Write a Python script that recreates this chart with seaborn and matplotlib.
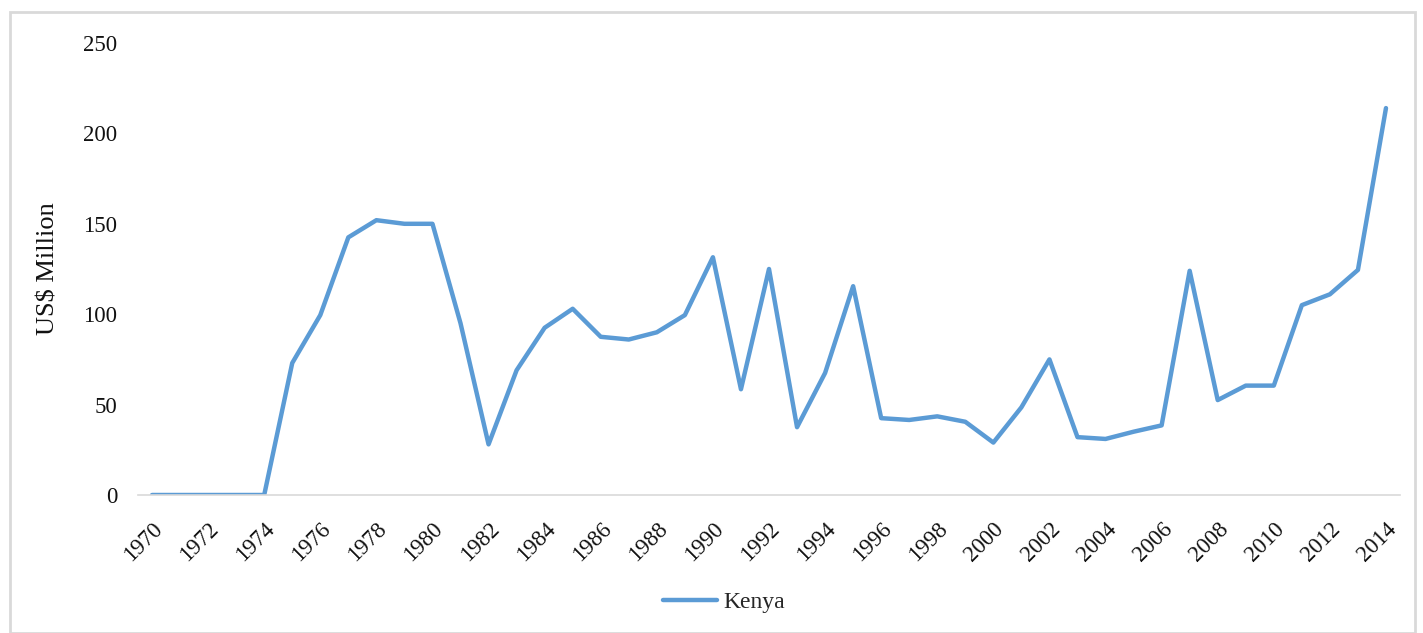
import matplotlib
matplotlib.use("Agg")
import matplotlib.pyplot as plt
import seaborn as sns
import pandas as pd
from matplotlib.patches import Rectangle

years = list(range(1970, 2015))
kenya = [0, 0, 0, 0, 0, 73, 99.5, 142.5, 152, 150, 150, 95, 28,
         69, 92.5, 103, 87.5, 86, 90, 99.5, 131.5, 58.5, 125, 37.5, 67.5,
         115.5, 42.5, 41.5, 43.5, 40.5, 29, 48.5, 75, 32, 31, 35, 38.5,
         124, 52.5, 60.5, 60.5, 105, 111, 124.5, 214]
series_name = "Kenya"
y_ticks = [0, 50, 100, 150, 200, 250]
x_tick_years = list(range(1970, 2015, 2))

df = pd.DataFrame({"Year": years, "Value": kenya, "Series": series_name})

sns.set_theme(style="white")
plt.rcParams["font.family"] = ["Liberation Serif", "DejaVu Serif"]

W, H = 1423, 633
fig = plt.figure(figsize=(W / 100, H / 100), dpi=100)
ax = fig.add_axes([138 / W, 1 - 495 / H, (1400 - 138) / W, (495 - 43) / H])

sns.lineplot(data=df, x="Year", y="Value", hue="Series",
             palette=["#5B9BD5"], linewidth=3.2, ax=ax, legend=True)

ax.set_xlim(1969.5, 2014.5)
ax.set_ylim(0, 250)
ax.set_yticks(y_ticks)
ax.set_yticklabels([str(v) for v in y_ticks], fontsize=16.5, color="#111111")
ax.set_xticks(x_tick_years)
ax.set_xticklabels([str(y) for y in x_tick_years], fontsize=16.5, rotation=45,
                   ha="right", rotation_mode="anchor", color="#111111")
ax.tick_params(axis="both", length=0)
ax.tick_params(axis="y", pad=15)
ax.tick_params(axis="x", pad=17)
ax.set_xlabel("")
ax.set_ylabel("US$ Million", fontsize=19, color="#111111")
ax.yaxis.set_label_coords((60 - 138) / (1400 - 138), 0.50)
ax.grid(False)
for s in ["top", "right", "left"]:
    ax.spines[s].set_visible(False)
ax.spines["bottom"].set_color("#d9d9d9")
ax.spines["bottom"].set_linewidth(1.2)
ax.set_zorder(2)

handles, labels = ax.get_legend_handles_labels()
ax.legend_.remove()
fig.legend(handles, labels, loc="center", bbox_to_anchor=(724 / W, 1 - 602 / H),
           frameon=False, fontsize=17, handlelength=2.3, handletextpad=0.25)

fig.patches.append(Rectangle((10 / W, 0), (1415 - 10) / W, (H - 12) / H,
                             transform=fig.transFigure, fill=False,
                             edgecolor="#d9d9d9", linewidth=2))

fig.savefig("out.png", dpi=100)
